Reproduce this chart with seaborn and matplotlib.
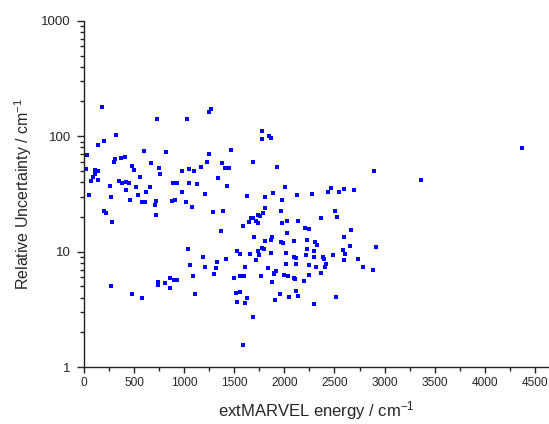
import numpy as np
import pandas as pd
import matplotlib
matplotlib.use("Agg")
import matplotlib.pyplot as plt
from matplotlib.ticker import MultipleLocator, LogLocator, FixedLocator, FixedFormatter, NullFormatter
import seaborn as sns

# extMARVEL energies (cm-1) and their relative uncertainties (cm-1)
energy = [183, 725, 319, 197, 143, 33, 596, 815, 309, 299,
          372, 409, 671, 479, 502, 751, 755, 16, 109, 137,
          107, 93, 556, 70, 140, 352, 380, 419, 446, 259,
          521, 656, 886, 925, 419, 621, 53, 269, 539, 459,
          578, 606, 718, 708, 878, 908, 200, 219, 715, 280,
          273, 482, 578, 736, 743, 808, 855, 901, 925, 858,
          1264, 1251, 1030, 1779, 1846, 1866, 1779, 1470, 1251, 1227,
          1380, 1407, 1443, 1686, 1170, 1048, 1095, 978, 1334, 1045,
          1127, 1430, 978, 1211, 1886, 1626, 1807, 1018, 1074, 1804,
          1287, 1390, 1789, 1733, 1757, 1670, 1689, 1646, 1714, 1739,
          1586, 1364, 1699, 1804, 1879, 1869, 1041, 1527, 1554, 1660,
          1736, 1746, 1776, 1793, 1869, 1187, 1417, 1717, 1330, 1055,
          1211, 1320, 1610, 1836, 1896, 1298, 1087, 1496, 1554, 1600,
          1769, 1876, 1111, 1520, 1557, 1623, 1530, 1610, 1906, 1686,
          1583,
          1929, 2009, 2129, 2278, 2465, 2432, 2542, 2597, 2691, 1976,
          1969, 2501, 2361, 2522, 2026, 2138, 1979, 2202, 2242, 2661,
          2026, 2597, 1966, 1983, 2098, 2223, 2305, 2322, 2654, 2585,
          2223, 2292, 2016, 2213, 2292, 2382, 2392, 2488, 2607, 2092,
          2119, 2594, 2737, 2787, 2013, 2119, 2242, 2312, 2418, 2402,
          1913, 1893, 1998, 2033, 2095, 2104, 2242, 2365, 2198, 2113,
          2138, 1952, 2048, 2514, 2295,
          4374, 2891, 3363, 2913, 2887]

uncertainty = [180, 141, 102, 91.2, 84.2, 68.2, 74.7, 72.8, 63.7, 59.6,
               64.6, 65.9, 58.4, 55.8, 51.1, 52.9, 47.2, 52.1, 50.8, 49.8,
               47.2, 44.8, 44.5, 40.8, 41.4, 40.8, 39.2, 40.2, 39.2, 37.4,
               36.0, 36.4, 39.7, 39.4, 34.1, 32.9, 30.8, 29.8, 30.7, 28.1,
               26.7, 26.7, 27.4, 25.4, 27.7, 28.1, 22.4, 21.7, 20.6, 18.1,
               5.01, 4.30, 4.00, 5.43, 5.16, 5.40, 5.91, 5.65, 5.65, 4.82,
               172, 161, 141, 111, 99.6, 96.9, 94.9, 75.8, 69.9, 59.3,
               58.8, 53.2, 52.9, 59.3, 54.3, 51.8, 50.5, 50.1, 43.3, 39.4,
               38.4, 37.4, 32.9, 31.7, 32.1, 30.1, 29.5, 27.2, 24.3, 23.9,
               22.0, 22.5, 21.7, 20.8, 20.4, 19.6, 19.5, 18.1, 18.3, 17.9,
               16.8, 15.0, 13.3, 12.4, 13.3, 12.6, 10.6, 10.1, 9.55, 9.55,
               10.1, 9.44, 10.7, 10.5, 9.83, 9.07, 8.59, 8.47, 8.14, 7.73,
               7.43, 7.28, 7.43, 7.28, 6.59, 6.37, 6.15, 5.96, 6.15, 6.15,
               6.15, 5.46, 4.27, 4.38, 4.51, 4.00, 3.66, 3.62, 3.79, 2.74,
               1.56,
               54.3, 36.4, 30.7, 31.7, 35.5, 32.7, 32.9, 34.8, 34.3, 28.1,
               22.5, 22.4, 19.6, 19.9, 18.5, 18.3, 17.7, 16.0, 15.7, 15.4,
               14.4, 13.5, 12.1, 11.8, 12.4, 12.6, 12.1, 11.5, 11.1, 10.4,
               10.5, 10.2, 9.83, 9.44, 9.07, 9.0, 8.59, 9.36, 9.55, 9.07,
               8.82, 8.54, 8.59, 7.37, 7.88, 7.78, 7.62, 7.43, 7.88, 7.43,
               6.80, 6.46, 6.28, 6.12, 5.96, 5.76, 6.33, 6.50, 5.57, 4.54,
               4.16, 4.27, 4.08, 4.02, 3.52,
               78.9, 49.8, 42.2, 10.9, 6.99]

y_ticks = [1, 10, 100, 1000]
y_tick_labels = ["1", "10", "100", "1000"]

sns.set_style("ticks")
plt.rcParams['font.family'] = ['Liberation Sans', 'DejaVu Sans']
plt.rcParams['mathtext.fontset'] = 'custom'
plt.rcParams['mathtext.rm'] = 'Liberation Sans'
plt.rcParams['mathtext.default'] = 'regular'

df = pd.DataFrame({"energy": energy, "uncertainty": uncertainty})

fig = plt.figure(figsize=(5.49, 4.24), dpi=100)
ax = fig.add_axes([0.153, 0.134, 0.845, 0.817])

sns.scatterplot(data=df, x="energy", y="uncertainty", ax=ax, marker="s",
                color="#0000ff", s=10, linewidth=0, legend=False)

ax.set_yscale("log")
ax.set_xlim(0, 4630)
ax.set_ylim(1, 1000)

ax.xaxis.set_major_locator(MultipleLocator(500))
ax.xaxis.set_minor_locator(MultipleLocator(250))
ax.yaxis.set_major_locator(FixedLocator(y_ticks))
ax.yaxis.set_major_formatter(FixedFormatter(y_tick_labels))
ax.yaxis.set_minor_locator(LogLocator(base=10, subs=np.arange(2, 10)))
ax.yaxis.set_minor_formatter(NullFormatter())

ax.tick_params(which="major", direction="out", width=1, color="#222222")
ax.tick_params(which="minor", direction="out", length=3, width=1, color="#222222")
ax.tick_params(axis="y", which="major", length=5, labelsize=9.5, pad=4.5)
ax.tick_params(axis="x", which="major", length=4, labelsize=8.6, pad=3)

for side in ["top", "right"]:
    ax.spines[side].set_visible(False)
for side in ["left", "bottom"]:
    ax.spines[side].set_color("#222222")
    ax.spines[side].set_linewidth(1)

ax.set_xlabel("extMARVEL energy / cm$^{-1}$", fontsize=12, labelpad=7)
ax.set_ylabel("Relative Uncertainty / cm$^{-1}$", fontsize=11.5, labelpad=5)

fig.savefig("out.png", dpi=100)
